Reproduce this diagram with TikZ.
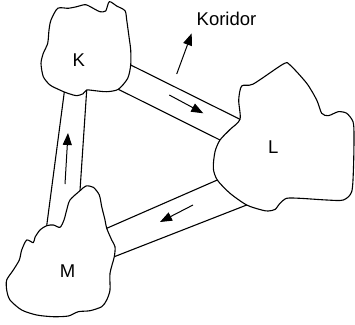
\documentclass[tikz,border=0pt]{standalone}
\usepackage{fontspec}
\setmainfont{Liberation Sans}
\usetikzlibrary{arrows.meta}
\begin{document}
\begin{tikzpicture}[x=1pt,y=-1pt,
  blob/.style={line width=1.1pt, line join=round},
  wall/.style={line width=1.1pt},
  flow/.style={line width=1pt,-{Triangle[length=12pt,width=9pt]}},
  lbl/.style={font=\fontsize{18.5}{20}\selectfont, inner sep=0pt, anchor=base}]
\useasboundingbox (0,0) rectangle (355,324);
% corridor end points
\coordinate (KLa) at (130.7,65);
\coordinate (KLb) at (118.3,89.3);
\coordinate (LKa) at (240,119.3);
\coordinate (LKb) at (220,140);
\coordinate (KMa) at (64.3,92);
\coordinate (KMb) at (86.7,90);
\coordinate (MKa) at (46.7,225.7);
\coordinate (MKb) at (80,190.7);
\coordinate (LMa) at (217.3,180);
\coordinate (LMb) at (246.7,205);
\coordinate (MLa) at (106.7,228.3);
\coordinate (MLb) at (114.3,256.7);
% arrow ends
\coordinate (f1t) at (169.3,95);
\coordinate (f1h) at (203.3,113.3);
\coordinate (f2t) at (193,205);
\coordinate (f2h) at (160,222);
\coordinate (f3t) at (65,184);
\coordinate (f3h) at (68,133);
\coordinate (f4t) at (176.7,74);
\coordinate (f4h) at (191.7,33.3);
% blobs
\draw[blob] plot[smooth cycle, tension=0.45] coordinates {
 (57.7,8.3) (68.3,8.3) (76.7,6.7) (85.7,4.7) (95,9.3) (100,11.7) (105.7,11)
 (109.3,1.7) (116.7,6) (125,10.7) (126.7,20) (129,36.7) (130.7,50) (130.7,65)
 (127.7,78.3) (118.3,89.3) (106.7,91.7) (95,90.7) (86.7,90) (83,93.8)
 (76.7,95.7) (70,94) (64.3,92) (58.3,89.3) (50,85) (43.3,76.7) (41,63.3)
 (43.3,53.3) (47.7,43.3) (49,30) (51,20)};
\draw[blob] plot[smooth cycle, tension=0.45] coordinates {
 (240,119.3) (238.7,100) (241.7,86) (253.3,84) (283.3,64) (290,65)
 (306.7,83.3) (316.7,100) (321.7,113.3) (328.3,115.7) (338.3,111.7)
 (346.7,113.3) (353,121.7) (354,135) (353.5,167) (351.7,191.7) (343.3,200)
 (326.7,200) (300,198.3) (286.7,198.3) (280,203.3) (275,209.5) (268,211)
 (261.7,210) (246.7,205) (230,193.3) (217.3,180) (213.3,168.3) (215,151.7)
 (220,140) (230,129.5)};
\draw[blob] plot[smooth cycle, tension=0.45] coordinates {
 (80,190.7) (86,186) (93.3,187.3) (99.3,195) (101.7,206.7) (105,220)
 (106.7,228.3) (111.7,240) (115,246.7) (114.3,256.7) (110,273.3) (110,290)
 (106.7,300) (101.7,306.7) (90,310.7) (78.3,311.7) (68.3,316) (53.3,316.7)
 (36.7,315) (21.7,310) (10,300) (6.7,290) (6.7,280) (13.3,270) (19.3,260)
 (21.7,250) (26.7,240) (33.3,242.7) (35,237.3) (40,230) (46.7,225.7)
 (53.3,225) (60,227.3) (64,220) (66.7,210) (70,200)};
% corridors
\draw[wall] (KLa) -- (LKa);
\draw[wall] (KLb) -- (LKb);
\draw[wall] (KMa) -- (MKa);
\draw[wall] (KMb) -- (MKb);
\draw[wall] (LMa) -- (MLa);
\draw[wall] (LMb) -- (MLb);
% flow arrows
\draw[flow] (f1t) -- (f1h);
\draw[flow] (f2t) -- (f2h);
\draw[flow] (f3t) -- (f3h);
\draw[flow] (f4t) -- (f4h);
% labels
\node[lbl] (K) at (78.7,66) {K};
\node[lbl] (L) at (273.3,153.3) {L};
\node[lbl] (M) at (67.5,277.3) {M};
\node[lbl] (kor) at (226.5,25.7) {Koridor};
\end{tikzpicture}
\end{document}
